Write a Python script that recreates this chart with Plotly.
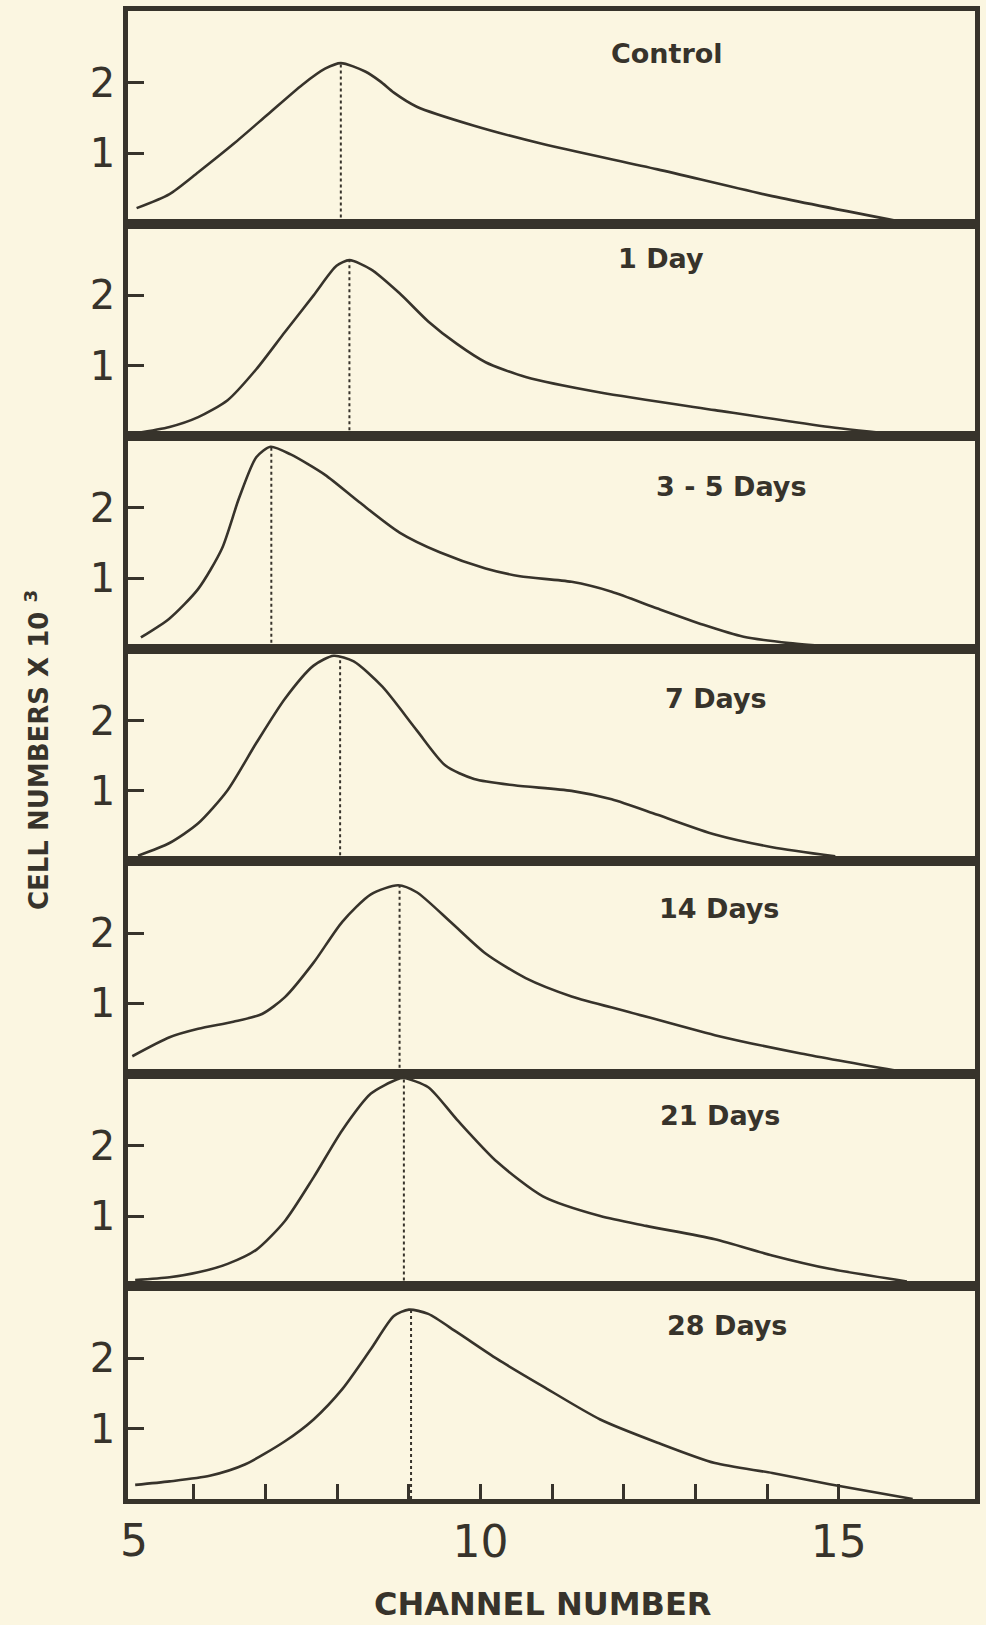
import plotly.graph_objs as go
from plotly.subplots import make_subplots

# panel names, top to bottom
panel_names = ["Control", "1 Day", "3 - 5 Days", "7 Days", "14 Days", "21 Days", "28 Days"]

# curves: channel number vs cell numbers (x 10^3)
control_x = [5.2, 5.66, 6.06, 6.55, 7.03, 7.51, 7.83, 8.05, 8.39, 8.6, 8.79, 9.11, 9.91, 10.87, 12.47, 14.07, 15.9]
control_y = [0.22, 0.42, 0.73, 1.13, 1.55, 1.97, 2.2, 2.28, 2.16, 2.02, 1.86, 1.66, 1.39, 1.13, 0.77, 0.39, 0.02]

day1_x = [5.18, 5.66, 6.06, 6.47, 6.87, 7.27, 7.67, 7.99, 8.17, 8.47, 8.87, 9.27, 9.67, 10.07, 10.63, 11.67, 13.27, 14.87, 15.95]
day1_y = [0.04, 0.13, 0.27, 0.51, 0.95, 1.48, 2.0, 2.42, 2.5, 2.37, 2.03, 1.63, 1.31, 1.05, 0.84, 0.62, 0.37, 0.13, 0.01]

day3_5_x = [5.26, 5.66, 6.06, 6.39, 6.63, 6.87, 7.07, 7.35, 7.83, 8.31, 8.87, 9.43, 10.07, 10.55, 11.27, 11.83, 12.47, 13.11, 13.67, 14.31, 15.02]
day3_5_y = [0.16, 0.43, 0.85, 1.42, 2.14, 2.72, 2.87, 2.76, 2.47, 2.08, 1.65, 1.37, 1.14, 1.03, 0.95, 0.81, 0.57, 0.34, 0.17, 0.08, 0.02]

day7_x = [5.22, 5.66, 6.06, 6.47, 6.87, 7.27, 7.67, 7.95, 8.23, 8.63, 9.11, 9.51, 9.91, 10.47, 11.27, 11.83, 12.47, 13.27, 14.07, 14.95]
day7_y = [0.08, 0.26, 0.54, 1.01, 1.68, 2.31, 2.78, 2.92, 2.84, 2.48, 1.86, 1.36, 1.17, 1.08, 1.00, 0.88, 0.66, 0.38, 0.20, 0.07]

day14_x = [5.14, 5.66, 6.06, 6.55, 6.95, 7.27, 7.67, 8.07, 8.47, 8.85, 9.11, 9.59, 10.07, 10.63, 11.27, 12.07, 13.27, 14.47, 15.95]
day14_y = [0.25, 0.52, 0.64, 0.74, 0.85, 1.09, 1.58, 2.16, 2.55, 2.68, 2.58, 2.15, 1.71, 1.36, 1.10, 0.88, 0.55, 0.29, 0.02]

day21_x = [5.18, 5.66, 6.06, 6.47, 6.87, 7.27, 7.67, 8.07, 8.47, 8.83, 8.93, 9.27, 9.67, 10.23, 10.87, 11.67, 12.31, 13.27, 14.07, 14.87, 15.95]
day21_y = [0.09, 0.13, 0.20, 0.32, 0.52, 0.93, 1.55, 2.22, 2.74, 2.94, 2.96, 2.83, 2.37, 1.77, 1.28, 1.00, 0.86, 0.67, 0.44, 0.25, 0.07]

day28_x = [5.18, 5.66, 6.22, 6.71, 7.27, 7.67, 8.07, 8.47, 8.79, 9.0, 9.27, 9.67, 10.23, 10.87, 11.67, 12.47, 13.27, 14.07, 14.87, 16.03]
day28_y = [0.20, 0.25, 0.33, 0.49, 0.82, 1.13, 1.56, 2.13, 2.60, 2.69, 2.63, 2.37, 1.99, 1.60, 1.13, 0.80, 0.51, 0.37, 0.21, 0.0]

# modal channel (dotted line) and the curve height there
peak_x = [8.05, 8.17, 7.08, 8.04, 8.87, 8.93, 9.03]
peak_y = [2.28, 2.5, 2.87, 2.91, 2.68, 2.96, 2.69]

x_major = [10, 15]
x_minor = [6, 7, 8, 9, 11, 12, 13, 14]
y_tick_vals = [1, 2]

curves = [(control_x, control_y), (day1_x, day1_y), (day3_5_x, day3_5_y), (day7_x, day7_y),
          (day14_x, day14_y), (day21_x, day21_y), (day28_x, day28_y)]

# where each panel title sits (data coords)
label_pos = [(12.6, 2.42), (12.52, 2.52), (13.5, 2.31), (13.28, 2.31), (13.33, 2.35), (13.34, 2.43), (13.44, 2.46)]

ink = "#37332b"
paper = "#fbf6e1"
x_lo, x_hi = 5.08, 16.9

fig = make_subplots(rows=7, cols=1, shared_xaxes=True, vertical_spacing=0)

for i, (xs, ys) in enumerate(curves):
    fig.add_trace(go.Scatter(x=xs, y=ys, mode="lines",
                             line=dict(color=ink, width=2.6, shape="spline", smoothing=0.7),
                             hoverinfo="skip"), row=i + 1, col=1)
    fig.add_trace(go.Scatter(x=[peak_x[i], peak_x[i]], y=[0, peak_y[i]], mode="lines",
                             line=dict(color=ink, width=2, dash="dot"),
                             hoverinfo="skip"), row=i + 1, col=1)
    suffix = "" if i == 0 else str(i + 1)
    fig.add_annotation(x=label_pos[i][0], y=label_pos[i][1], xref="x" + suffix, yref="y" + suffix,
                       text=panel_names[i], showarrow=False, xanchor="center", yanchor="middle",
                       font=dict(family="DejaVu Sans", size=27, color=ink, weight="bold"))

fig.update_xaxes(range=[x_lo, x_hi], showline=True, mirror=True, linewidth=4.5, linecolor=ink,
                 showgrid=False, zeroline=False, ticks="")
fig.update_xaxes(tickvals=x_major, ticks="inside", ticklen=15,
                 tickwidth=2.5, tickcolor=ink, showticklabels=True,
                 minor=dict(tickvals=x_minor, ticks="inside", ticklen=15, tickwidth=2.5,
                            tickcolor=ink, showgrid=False),
                 tickfont=dict(family="DejaVu Sans", size=44, color=ink), row=7, col=1)
fig.update_yaxes(range=[0, 3.02], showline=True, mirror=True, linewidth=4.5, linecolor=ink,
                 showgrid=False, zeroline=False, tickvals=y_tick_vals, ticks="inside",
                 ticklen=16, tickwidth=3, tickcolor=ink,
                 tickfont=dict(family="DejaVu Sans", size=40, color=ink))

# the "5" sits under the left frame, just outside the axis range
fig.add_annotation(x=x_lo, y=0, xref="x7", yref="y7", text="5", showarrow=False,
                   xanchor="center", yanchor="top", yshift=-14, xshift=6,
                   font=dict(family="DejaVu Sans", size=44, color=ink))

fig.add_annotation(x=-0.108, y=0.503, xref="paper", yref="paper", textangle=-90,
                   xanchor="center", yanchor="middle",
                   text="CELL NUMBERS X 10 <sup>3</sup>", showarrow=False,
                   font=dict(family="DejaVu Sans", size=26, color=ink, weight="bold"))
fig.add_annotation(x=0.489, y=-0.0706, xref="paper", yref="paper",
                   xanchor="center", yanchor="middle",
                   text="CHANNEL NUMBER", showarrow=False,
                   font=dict(family="DejaVu Sans", size=32, color=ink, weight="bold"))

fig.update_layout(width=986, height=1625, showlegend=False,
                  margin=dict(l=128, r=6, t=10, b=126),
                  paper_bgcolor=paper, plot_bgcolor=paper)

fig.write_html("out.html", config={"displayModeBar": False},
               post_script="document.body.style.margin='0px';")
